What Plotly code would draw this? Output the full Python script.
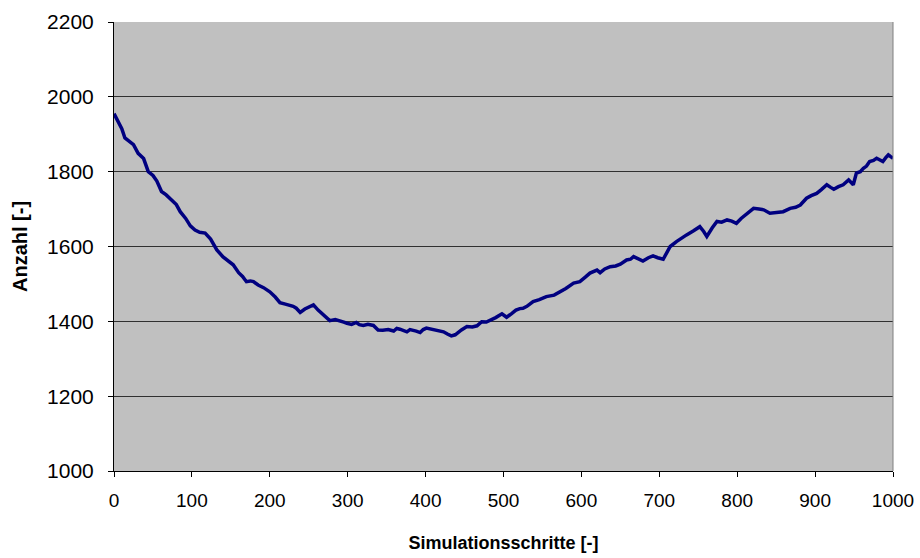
import plotly.graph_objects as go

# Simulation step and count (Anzahl) along the run
steps = [0, 5, 10, 14, 20, 25, 31, 38, 44, 50, 55, 61, 67, 74, 80, 85, 92, 98, 104, 110,
         117, 124, 132, 140, 147, 153, 160, 165, 170, 175, 179, 185, 192, 200, 207, 213, 220, 230, 234, 239,
         245, 250, 256, 262, 270, 277, 284, 290, 295, 299, 305, 311, 315, 320, 326, 333, 339, 345, 352, 359,
         363, 367, 372, 376, 380, 384, 388, 393, 397, 401, 405, 410, 416, 423, 428, 433, 438, 442, 446, 453,
         460, 466, 472, 478, 483, 490, 498, 504, 510, 516, 521, 525, 530, 538, 546, 555, 565, 573, 580, 590,
         598, 605, 611, 620, 624, 630, 637, 644, 650, 658, 663, 667, 673, 679, 686, 692, 698, 705, 710, 714,
         722, 728, 735, 744, 752, 757, 761, 768, 774, 780, 787, 793, 799, 805, 812, 821, 828, 834, 842, 850,
         859, 868, 875, 881, 889, 895, 902, 908, 915, 920, 924, 930, 936, 943, 949, 953, 958, 962, 966, 970,
         975, 979, 983, 987, 991, 994, 997, 1000]
counts = [1955, 1935, 1915, 1890, 1880, 1872, 1849, 1835, 1800, 1790, 1775, 1747, 1738, 1725, 1712, 1693, 1675, 1655, 1644, 1638,
          1636, 1620, 1591, 1572, 1560, 1551, 1530, 1520, 1506, 1508, 1506, 1497, 1490, 1479, 1465, 1450, 1446, 1440, 1435, 1424,
          1433, 1438, 1444, 1430, 1416, 1402, 1405, 1402, 1398, 1395, 1392, 1397, 1391, 1389, 1392, 1389, 1377, 1376, 1378, 1374,
          1381, 1379, 1375, 1372, 1378, 1377, 1374, 1370, 1378, 1382, 1380, 1379, 1376, 1372, 1366, 1361, 1364, 1372, 1377, 1386,
          1385, 1388, 1399, 1398, 1402, 1410, 1420, 1411, 1420, 1430, 1434, 1435, 1440, 1453, 1458, 1466, 1470, 1479, 1488, 1502,
          1506, 1518, 1529, 1537, 1530, 1540, 1546, 1548, 1553, 1564, 1566, 1573, 1568, 1561, 1570, 1575, 1570, 1566, 1585, 1600,
          1613, 1622, 1631, 1642, 1653, 1640, 1627, 1650, 1667, 1665, 1671, 1668, 1662, 1675, 1688, 1702, 1700, 1698, 1689, 1692,
          1693, 1702, 1705, 1711, 1729, 1736, 1742, 1752, 1765, 1758, 1753, 1760, 1765, 1778, 1765, 1796, 1800, 1809, 1815, 1827,
          1830, 1836, 1832, 1827, 1838, 1845, 1840, 1836]

x_ticks = list(range(0, 1001, 100))
y_ticks = list(range(1000, 2201, 200))

FONT = "Liberation Sans, Arial, sans-serif"

fig = go.Figure()
fig.add_trace(go.Scatter(
    x=steps, y=counts, mode="lines",
    line=dict(color="#000080", width=3.5),
    showlegend=False, hoverinfo="skip",
))

fig.update_layout(
    width=920, height=558,
    margin=dict(l=114, r=27, t=22, b=87),
    paper_bgcolor="white",
    plot_bgcolor="#C0C0C0",
    xaxis=dict(
        range=[0, 1000], tickvals=x_ticks, ticktext=[str(v) for v in x_ticks],
        showgrid=False, zeroline=False, automargin=False,
        showline=True, linecolor="black", linewidth=1,
        ticks="outside", ticklen=5, tickcolor="black",
        ticklabelstandoff=7,
        tickfont=dict(family=FONT, size=19, color="black"),
        title=dict(text="<b>Simulationsschritte [-]</b>", standoff=26,
                   font=dict(family=FONT, size=18, color="black")),
    ),
    yaxis=dict(
        range=[1000, 2200], tickvals=y_ticks, ticktext=[str(v) for v in y_ticks],
        showgrid=True, gridcolor="#303030", gridwidth=1, zeroline=False, automargin=False,
        showline=True, linecolor="black", linewidth=1,
        ticks="outside", ticklen=5, tickcolor="black",
        ticklabelstandoff=10,
        tickfont=dict(family=FONT, size=21, color="black"),
        title=dict(text="<b>Anzahl [-]</b>", standoff=14,
                   font=dict(family=FONT, size=20, color="black")),
    ),
)

# thin grey frame on the right side of the plot area
fig.add_shape(type="line", xref="paper", yref="paper", x0=1, x1=1, y0=0, y1=1,
              line=dict(color="#808080", width=1))

fig.write_html("out.html")
